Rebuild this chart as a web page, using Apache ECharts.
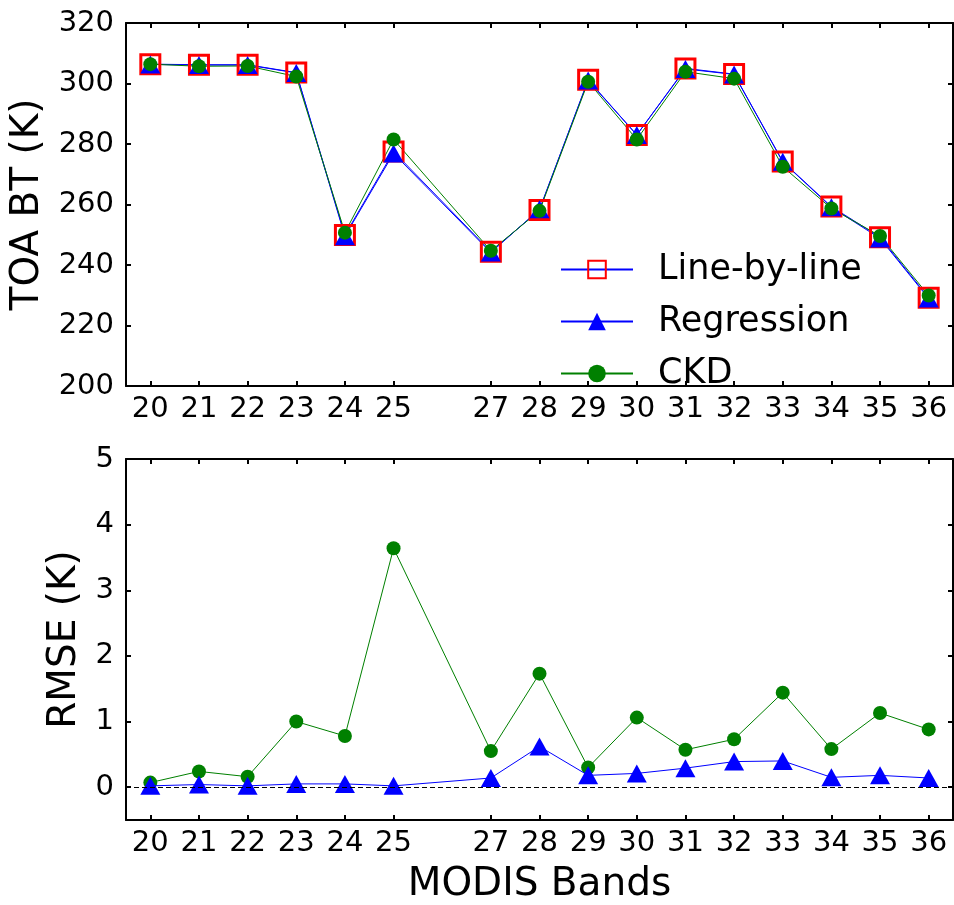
<!DOCTYPE html>
<html>
<head>
<meta charset="utf-8">
<script src="https://cdn.jsdelivr.net/npm/echarts@6/dist/echarts.min.js"></script>
<style>
  html, body { margin: 0; padding: 0; background: #fff; }
  #chart { width: 954px; height: 905px; }
</style>
</head>
<body>
<div id="chart"></div>
<script>
// MODIS thermal bands (band 26 is not simulated)
const bands = [20, 21, 22, 23, 24, 25, 27, 28, 29, 30, 31, 32, 33, 34, 35, 36];

// Top-of-atmosphere brightness temperature (K)
const btLineByLine = [306.4, 306.2, 306.2, 303.6, 249.9, 277.5, 244.4, 258.2, 301.2, 283.0, 305.0, 303.1, 274.2, 259.3, 249.2, 229.2];
const btRegression = [306.3, 306.1, 306.1, 303.5, 249.5, 276.9, 244.1, 258.4, 301.0, 283.0, 304.8, 303.0, 274.1, 259.1, 248.8, 228.9];
const btCKD        = [306.4, 305.7, 305.8, 302.3, 250.7, 281.5, 244.7, 257.9, 300.6, 281.5, 303.9, 301.6, 272.5, 258.7, 249.6, 229.9];

// RMSE against line-by-line (K)
const rmseRegression = [0.02, 0.04, 0.02, 0.05, 0.05, 0.02, 0.14, 0.62, 0.18, 0.21, 0.29, 0.39, 0.40, 0.15, 0.18, 0.14];
const rmseCKD        = [0.07, 0.24, 0.16, 1.00, 0.78, 3.64, 0.55, 1.73, 0.30, 1.06, 0.57, 0.73, 1.44, 0.58, 1.13, 0.88];

const btTicks = [200, 220, 240, 260, 280, 300, 320];
const rmseTicks = [0, 1, 2, 3, 4, 5];

const FONT = 'DejaVu Sans';
const BLUE = '#0000ff', GREEN = '#008000', RED = '#ff0000';

const pairs = vals => bands.map((b, i) => [b, vals[i]]);

const frameLine = { show: true, onZero: false, lineStyle: { color: '#000', width: 2 } };
const tickIn = (vals) => ({ show: true, inside: true, length: 5, customValues: vals, lineStyle: { color: '#000', width: 2 } });
const tickLabel = (vals, margin) => ({ show: true, customValues: vals, color: '#000', fontFamily: FONT, fontSize: 29, margin: margin });

function xAxes(gridIndex, withName) {
  const base = { type: 'value', gridIndex, min: 19.5, max: 36.5, splitLine: { show: false }, axisLine: frameLine };
  return [
    Object.assign({}, base, {
      position: 'bottom',
      axisTick: tickIn(bands),
      axisLabel: tickLabel(bands, 9),
      name: withName ? 'MODIS Bands' : '',
      nameLocation: 'middle',
      nameGap: 45,
      nameTextStyle: { color: '#000', fontFamily: FONT, fontSize: 39 }
    }),
    Object.assign({}, base, {
      position: 'top',
      axisTick: tickIn(bands),
      axisLabel: { show: false }
    })
  ];
}

function yAxes(gridIndex, min, max, ticks, name, nameGap) {
  const base = { type: 'value', gridIndex, min, max, splitLine: { show: false }, axisLine: frameLine };
  return [
    Object.assign({}, base, {
      position: 'left',
      axisTick: tickIn(ticks),
      axisLabel: tickLabel(ticks, 12),
      name: name,
      nameLocation: 'middle',
      nameGap: nameGap,
      nameRotate: 90,
      nameTextStyle: { color: '#000', fontFamily: FONT, fontSize: 39 }
    }),
    Object.assign({}, base, {
      position: 'right',
      axisTick: tickIn(ticks),
      axisLabel: { show: false }
    })
  ];
}

const chart = echarts.init(document.getElementById('chart'), null, { renderer: 'canvas' });

chart.setOption({
  animation: false,
  backgroundColor: '#fff',
  grid: [
    { left: 126, right: 1, top: 23, height: 363 },
    { left: 126, right: 1, top: 459, height: 363 }
  ],
  xAxis: [...xAxes(0, false), ...xAxes(1, true)],
  yAxis: [
    ...yAxes(0, 200, 320, btTicks, 'TOA BT (K)', 78),
    ...yAxes(1, -0.5, 5, rmseTicks, 'RMSE (K)', 37)
  ],
  legend: {
    orient: 'vertical',
    left: 555,
    top: 247,
    itemWidth: 72,
    itemHeight: 22,
    itemGap: 17,
    selectedMode: false,
    textStyle: { color: '#000', fontFamily: FONT, fontSize: 35, lineHeight: 35, padding: [0, 0, 0, 20] },
    data: ['Line-by-line', 'Regression', 'CKD']
  },
  series: [
    {
      name: 'Line-by-line', type: 'line', xAxisIndex: 0, yAxisIndex: 0,
      data: pairs(btLineByLine),
      symbol: 'rect', symbolSize: 19,
      lineStyle: { color: BLUE, width: 1 },
      itemStyle: { color: 'rgba(255,255,255,0)', borderColor: RED, borderWidth: 3 }
    },
    {
      name: 'Regression', type: 'line', xAxisIndex: 0, yAxisIndex: 0,
      data: pairs(btRegression),
      symbol: 'triangle', symbolSize: [20, 18],
      lineStyle: { color: BLUE, width: 1 },
      itemStyle: { color: BLUE }
    },
    {
      name: 'CKD', type: 'line', xAxisIndex: 0, yAxisIndex: 0,
      data: pairs(btCKD),
      symbol: 'circle', symbolSize: 14,
      lineStyle: { color: GREEN, width: 1 },
      itemStyle: { color: GREEN }
    },
    {
      name: 'Regression', type: 'line', xAxisIndex: 2, yAxisIndex: 2,
      data: pairs(rmseRegression),
      symbol: 'triangle', symbolSize: [20, 18],
      lineStyle: { color: BLUE, width: 1 },
      itemStyle: { color: BLUE },
      markLine: {
        silent: true, symbol: 'none', label: { show: false },
        lineStyle: { color: '#000', width: 1, type: [5, 3] },
        data: [{ yAxis: 0 }]
      },
      z: 3
    },
    {
      name: 'CKD', type: 'line', xAxisIndex: 2, yAxisIndex: 2,
      data: pairs(rmseCKD),
      symbol: 'circle', symbolSize: 14,
      lineStyle: { color: GREEN, width: 1 },
      itemStyle: { color: GREEN },
      z: 2
    }
  ]
});
</script>
</body>
</html>
